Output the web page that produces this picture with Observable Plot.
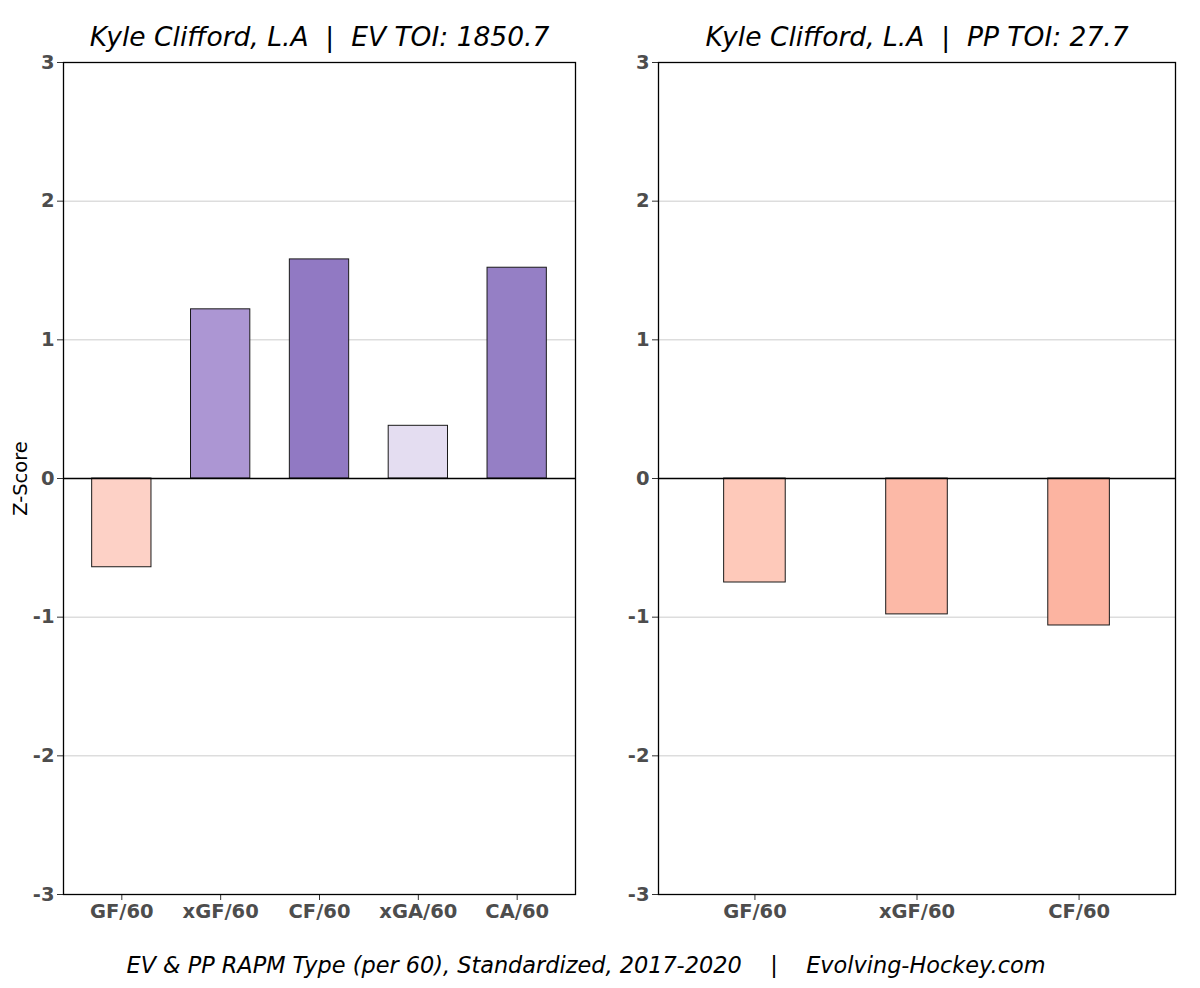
<!DOCTYPE html>
<html>
<head>
<meta charset="utf-8">
<script src="https://cdn.jsdelivr.net/npm/d3@7"></script>
<script src="https://cdn.jsdelivr.net/npm/@observablehq/plot@0.6"></script>
<style>
  html, body { margin: 0; padding: 0; background: #fff; }
  #wrap { position: relative; width: 1200px; height: 988px; font-family: "DejaVu Sans", sans-serif; }
  #left { position: absolute; left: 0; top: 0; }
  #right { position: absolute; left: 600px; top: 0; }
  #caption { position: absolute; left: 0; width: 1172px; top: 952px; text-align: center;
    font-size: 22.4px; font-style: italic; color: #000; white-space: pre; }
</style>
</head>
<body>
<div id="wrap">
  <div id="left"></div>
  <div id="right"></div>
  <div id="caption"></div>
</div>
<script>
// ---- data ----
const evCategories = ["GF/60", "xGF/60", "CF/60", "xGA/60", "CA/60"];
const evValues = [-0.64, 1.22, 1.58, 0.38, 1.52];
const ppCategories = ["GF/60", "xGF/60", "CF/60"];
const ppValues = [-0.75, -0.98, -1.06];
const yTicks = [-3, -2, -1, 0, 1, 2, 3];
const evTitle = "Kyle Clifford, L.A  |  EV TOI: 1850.7";
const ppTitle = "Kyle Clifford, L.A  |  PP TOI: 27.7";
const yLabel = "Z-Score";
const captionText = "EV & PP RAPM Type (per 60), Standardized, 2017-2020    |    Evolving-Hockey.com";

// bar colours (style)
const evColors = ["#fdd1c6", "#ac96d3", "#9179c3", "#e4ddf1", "#957fc5"];
const ppColors = ["#fec9ba", "#fcb9a7", "#fcb4a1"];

function panel({categories, values, colors, title, marginLeft, width, plotWidth, paddingInner, paddingOuter, showYLabel}) {
  const data = categories.map((c, i) => ({cat: c, value: values[i], color: colors[i]}));
  const marks = [
    Plot.gridY(yTicks.filter(t => t !== 0 && Math.abs(t) !== 3), {stroke: "#cccccc", strokeOpacity: 1, strokeWidth: 1}),
    Plot.barY(data, {x: "cat", y1: 0, y2: "value", fill: d => d.color, stroke: "#1a1a1a", strokeWidth: 1}),
    Plot.ruleY([0], {stroke: "#000", strokeWidth: 1.3}),
    Plot.axisY({ticks: yTicks, tickFormat: d => String(d), tickSize: 6, tickPadding: 3,
      fontSize: 19.5, fontWeight: "bold", fill: "#4d4d4d", stroke: "#333", label: null}),
    Plot.axisX({tickSize: 6, tickPadding: 4, fontSize: 19.5, fontWeight: "bold", fill: "#4d4d4d", stroke: "#333", label: null}),
    Plot.frame({stroke: "#000", strokeWidth: 1.3}),
    Plot.text([title], {frameAnchor: "top", dy: -25, fontSize: 26.5, fontStyle: "italic", fill: "#000", lineAnchor: "middle"})
  ];
  if (showYLabel) {
    marks.push(Plot.text([yLabel], {frameAnchor: "left", dx: -43, rotate: -90, fontSize: 19.5, fill: "#000",
      textAnchor: "middle", lineAnchor: "middle"}));
  }
  return Plot.plot({
    width: width,
    height: 935,
    marginTop: 62,
    marginBottom: 41,
    marginLeft: marginLeft,
    marginRight: width - marginLeft - plotWidth,
    style: {fontFamily: "DejaVu Sans, sans-serif", background: "#fff", overflow: "visible"},
    x: {domain: categories, paddingInner: paddingInner, paddingOuter: paddingOuter, align: 0.5, round: false},
    y: {domain: [-3, 3]},
    marks
  });
}

document.getElementById("left").appendChild(panel({
  categories: evCategories, values: evValues, colors: evColors, title: evTitle,
  marginLeft: 63, width: 600, plotWidth: 512, paddingInner: 0.4, paddingOuter: 0.29, showYLabel: true
}));
document.getElementById("right").appendChild(panel({
  categories: ppCategories, values: ppValues, colors: ppColors, title: ppTitle,
  marginLeft: 58, width: 600, plotWidth: 517, paddingInner: 0.62, paddingOuter: 0.405, showYLabel: false
}));
document.getElementById("caption").textContent = captionText;
</script>
</body>
</html>
